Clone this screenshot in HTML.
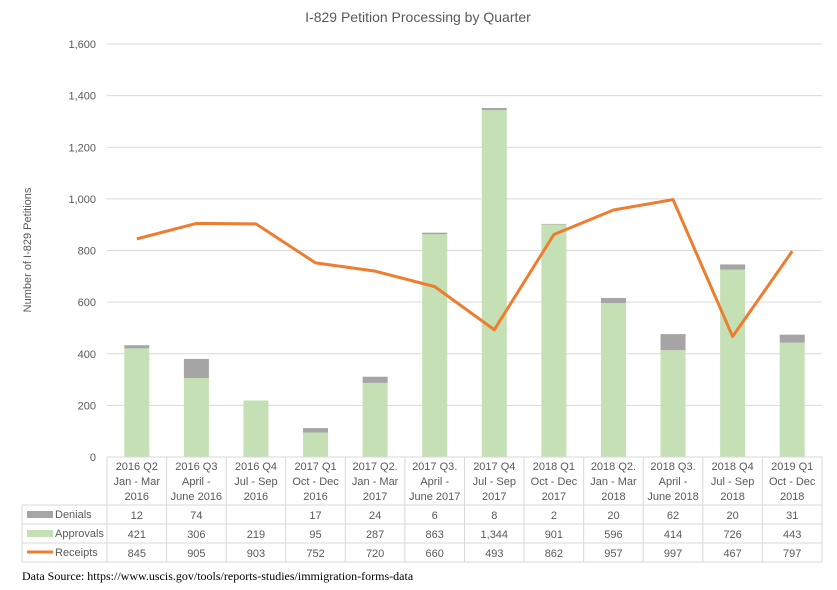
<!DOCTYPE html>
<html><head><meta charset="utf-8"><style>
body{margin:0;background:#fff;}
svg{display:block;font-family:"Liberation Sans",Calibri,sans-serif;}
</style></head><body>
<svg id="s" width="837" height="590" xmlns="http://www.w3.org/2000/svg"></svg>
<script>
const s=document.getElementById('s');
let h='';
const X0=107,X1=822,W=(X1-X0)/12,Y0=457,YT=44,sc=(Y0-YT)/1600;
const y=v=>Y0-v*sc;
h+=`<text x="418" y="22" text-anchor="middle" font-size="14" fill="#595959">I-829 Petition Processing by Quarter</text>`;
for(let v=0;v<=1600;v+=200){
 if(v>0)h+=`<line x1="${X0}" x2="${X1}" y1="${y(v)}" y2="${y(v)}" stroke="#d9d9d9" stroke-width="1"/>`;
 h+=`<text x="96" y="${y(v)+4}" text-anchor="end" font-size="11" fill="#595959">${v.toLocaleString('en-US')}</text>`;
}
h+=`<text transform="translate(31,250) rotate(-90)" text-anchor="middle" font-size="11" fill="#595959">Number of I-829 Petitions</text>`;
const lab=[["2016 Q2","Jan - Mar","2016"],["2016 Q3","April -","June 2016"],["2016 Q4","Jul - Sep","2016"],["2017 Q1","Oct - Dec","2016"],["2017 Q2.","Jan - Mar","2017"],["2017 Q3.","April -","June 2017"],["2017 Q4","Jul - Sep","2017"],["2018 Q1","Oct - Dec","2017"],["2018 Q2.","Jan - Mar","2018"],["2018 Q3.","April -","June 2018"],["2018 Q4","Jul - Sep","2018"],["2019  Q1","Oct - Dec","2018"]];
const den=[12,74,null,17,24,6,8,2,20,62,20,31];
const app=[421,306,219,95,287,863,1344,901,596,414,726,443];
const rec=[845,905,903,752,720,660,493,862,957,997,467,797];
for(let i=0;i<12;i++){
 const c=X0+W*(i+0.5);
 h+=`<rect x="${c-12.5}" y="${y(app[i])}" width="25" height="${app[i]*sc}" fill="#c5e0b4"/>`;
 if(den[i])h+=`<rect x="${c-12.5}" y="${y(app[i]+den[i])}" width="25" height="${den[i]*sc}" fill="#a5a5a5"/>`;
}
let pts=rec.map((v,i)=>`${X0+W*(i+0.5)},${y(v)}`).join(' ');
h+=`<polyline points="${pts}" fill="none" stroke="#ed7d31" stroke-width="3" stroke-linejoin="round"/>`;
const rows=[457,505,524,543,562];
const L=22;
h+=`<g stroke="#d9d9d9" stroke-width="1">`;
h+=`<line x1="${X0}" x2="${X1}" y1="457" y2="457"/>`;
for(let r=1;r<5;r++)h+=`<line x1="${L}" x2="${X1}" y1="${rows[r]}" y2="${rows[r]}"/>`;
h+=`<line x1="${L}" x2="${L}" y1="505" y2="562"/>`;
for(let i=0;i<=12;i++)h+=`<line x1="${X0+W*i}" x2="${X0+W*i}" y1="457" y2="562"/>`;
h+=`</g>`;
for(let i=0;i<12;i++){
 const c=X0+W*(i+0.5);
 lab[i].forEach((t,k)=>h+=`<text x="${c}" y="${470+k*15}" text-anchor="middle" font-size="11" fill="#595959">${t}</text>`);
 const vals=[den[i],app[i],rec[i]];
 vals.forEach((v,k)=>{if(v!=null)h+=`<text x="${c}" y="${rows[k+1]+14}" text-anchor="middle" font-size="11" fill="#595959">${v.toLocaleString('en-US')}</text>`;});
}
h+=`<rect x="27" y="511" width="26" height="7" fill="#a5a5a5"/><text x="55" y="518" font-size="11" fill="#595959">Denials</text>`;
h+=`<rect x="27" y="530" width="26" height="7" fill="#c5e0b4"/><text x="55" y="537" font-size="11" fill="#595959">Approvals</text>`;
h+=`<line x1="27" x2="53" y1="552" y2="552" stroke="#ed7d31" stroke-width="3"/><text x="55" y="556" font-size="11" fill="#595959">Receipts</text>`;
h+=`<text x="22" y="580" font-size="12" fill="#000" font-family="Liberation Serif,serif">Data Source: https://www.uscis.gov/tools/reports-studies/immigration-forms-data</text>`;
s.innerHTML=h;
</script>
</body></html>
